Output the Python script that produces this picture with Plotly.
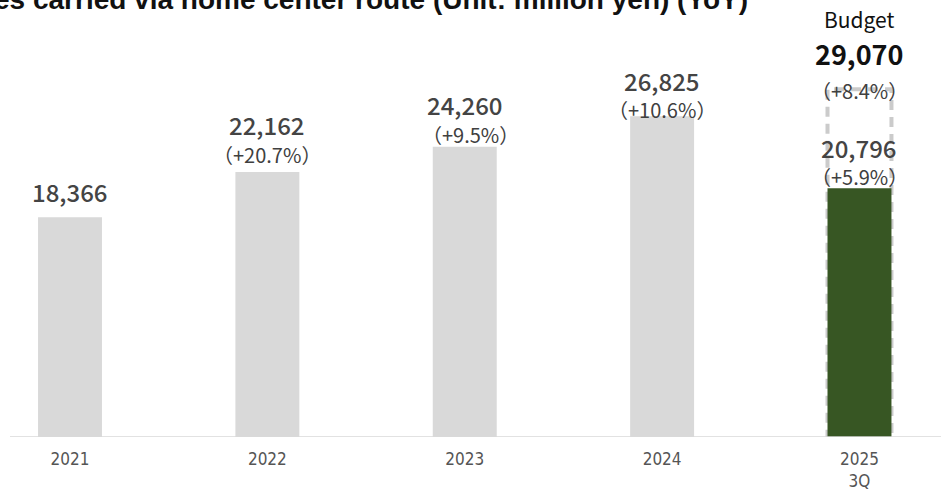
import plotly.graph_objects as go

# Sales through the home center route, million yen
years = ["2021", "2022", "2023", "2024", "2025<br>3Q"]
sales = [18366, 22162, 24260, 26825, 20796]
yoy = [None, "+20.7%", "+9.5%", "+10.6%", "+5.9%"]
budget_value = 29070
budget_yoy = "+8.4%"
title_text = "Sales carried via home center route (Unit: million yen) (YoY)"

# styling
bar_colors = ["#d9d9d9", "#d9d9d9", "#d9d9d9", "#d9d9d9", "#375623"]
bar_width = 0.324
label_font = "Noto Sans CJK JP"
value_shift = [26, 47, 42, 36, 41]     # px above bar top for the value label
pct_shift = [0, 17, 12, 7, 12]         # px above bar top for the YoY label
pct_xshift = [0, 0, 6, 0, 0]

xpos = list(range(len(years)))

fig = go.Figure()

fig.add_trace(go.Bar(
    x=xpos, y=sales, width=bar_width,
    marker=dict(color=bar_colors, line=dict(width=0)),
    hoverinfo="skip",
))

# dashed outline for the full-year budget
last = len(years) - 1
fig.add_shape(
    type="rect", xref="x", yref="y",
    x0=last - bar_width / 2, x1=last + bar_width / 2,
    y0=0, y1=budget_value,
    line=dict(color="#cbcbcb", width=4, dash="10px,7px"),
    fillcolor="rgba(0,0,0,0)", layer="below",
)

annotations = []
for i, v in enumerate(sales):
    annotations.append(dict(
        x=i, y=v, xref="x", yref="y", text=f"{v:,}", showarrow=False,
        yanchor="middle", yshift=value_shift[i], borderpad=0,
        font=dict(family=label_font, size=24, color="#444444", weight=500),
    ))
    if yoy[i]:
        annotations.append(dict(
            x=i, y=v, xref="x", yref="y", text=f"（{yoy[i]}）", showarrow=False,
            yanchor="middle", yshift=pct_shift[i], xshift=pct_xshift[i], borderpad=0,
            font=dict(family=label_font, size=20, color="#404040"),
        ))

annotations += [
    dict(x=last, y=budget_value, xref="x", yref="y", text="Budget",
         showarrow=False, yanchor="middle", yshift=70, borderpad=0,
         font=dict(family=label_font, size=21, color="#111111")),
    dict(x=last, y=budget_value, xref="x", yref="y", text=f"{budget_value:,}",
         showarrow=False, yanchor="middle", yshift=36, borderpad=0,
         font=dict(family=label_font, size=27, color="#111111", weight="bold")),
    dict(x=last, y=budget_value, xref="x", yref="y", text=f"（{budget_yoy}）",
         showarrow=False, yanchor="middle", yshift=-1, borderpad=0,
         font=dict(family=label_font, size=20, color="#404040")),
    # chart heading, running off the top-left of the canvas
    dict(x=(750 - 10) / 931, y=1, xref="paper", yref="paper", text=title_text,
         showarrow=False, xanchor="right", yanchor="middle", yshift=1,
         font=dict(family="Liberation Sans", size=28, color="#111111", weight="bold")),
]

fig.update_layout(
    width=941, height=495,
    margin=dict(l=10, r=0, t=0, b=58),
    paper_bgcolor="white", plot_bgcolor="white",
    showlegend=False,
    annotations=annotations,
    xaxis=dict(
        range=[-0.304, 4.413], tickmode="array", tickvals=xpos, ticktext=years,
        showgrid=False, zeroline=False, showline=False, ticks="",
        ticklabelstandoff=10,
        tickfont=dict(family="Liberation Sans Narrow, DejaVu Sans Condensed", size=17, color="#555555"),
    ),
    yaxis=dict(
        range=[0, 36540], visible=False, showgrid=False, zeroline=False,
    ),
)
fig.add_shape(type="line", xref="paper", yref="y", x0=0, x1=1, y0=0, y1=0,
              line=dict(color="#d9d9d9", width=1.5), layer="above")

fig.write_html("out.html")
